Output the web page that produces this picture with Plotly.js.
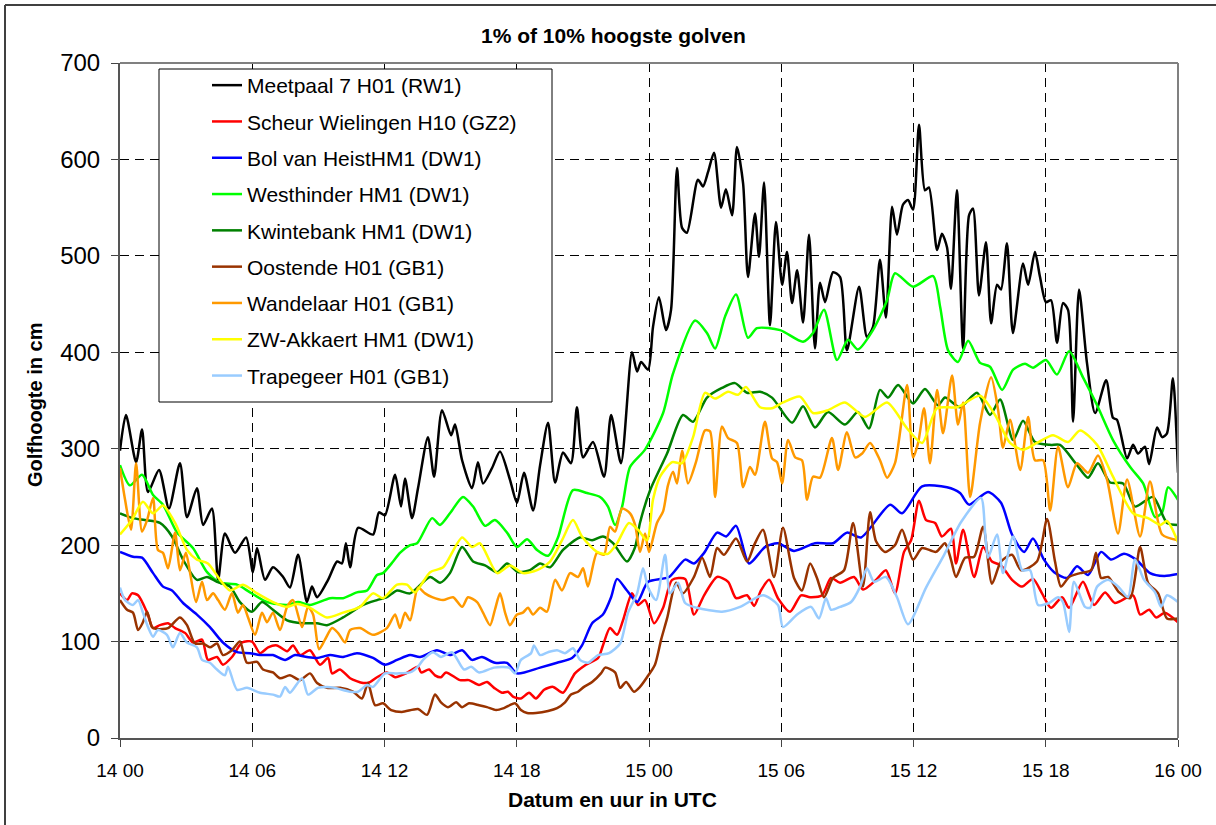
<!DOCTYPE html>
<html><head><meta charset="utf-8">
<script src="https://cdn.plot.ly/plotly-3.0.1.min.js"></script>
<style>html,body{margin:0;padding:0;background:#fff;overflow:hidden}#chart{width:1216px;height:825px}</style>
</head><body><div id="chart"></div>
<script>
// Time axis (hours since 14 00 UTC)
const tijdTicks = [0, 6, 12, 18, 24, 30, 36, 42, 48];
const tijdLabels = ["14 00", "14 06", "14 12", "14 18", "15 00", "15 06", "15 12", "15 18", "16 00"];

const reeksNamen = [
  "Meetpaal 7 H01 (RW1)", "Scheur Wielingen H10 (GZ2)", "Bol van HeistHM1 (DW1)",
  "Westhinder HM1 (DW1)", "Kwintebank HM1 (DW1)", "Oostende H01 (GB1)",
  "Wandelaar H01 (GB1)", "ZW-Akkaert HM1 (DW1)", "Trapegeer H01 (GB1)"
];

// [hours since 14 00, wave height cm]
const meetpaal = [[0,298],[0.27,335],[0.73,286],[1.0,320],[1.27,255],[1.77,278],[2.22,238],[2.72,285],[3.04,229],[3.49,259],[3.77,221],[4.17,238],[4.45,164],[4.76,212],[5.22,192],[5.72,208],[6.03,172],[6.22,197],[6.58,164],[6.94,177],[7.40,167],[7.71,156],[8.08,190],[8.48,141],[8.71,157],[8.94,146],[9.44,164],[9.85,183],[10.07,181],[10.25,202],[10.44,177],[10.80,218],[11.48,211],[11.75,234],[12.02,231],[12.48,273],[12.75,240],[12.93,269],[13.25,228],[13.52,259],[13.97,312],[14.25,271],[14.61,340],[15.02,314],[15.20,325],[15.52,288],[15.97,259],[16.24,286],[16.47,264],[16.88,280],[17.24,297],[17.69,268],[18.01,244],[18.33,275],[18.74,236],[19.06,283],[19.42,327],[19.74,265],[20.10,296],[20.46,285],[20.73,343],[21.01,291],[21.46,307],[21.96,271],[22.28,335],[22.73,285],[23.23,400],[23.46,380],[23.64,390],[23.96,382],[24.18,426],[24.45,457],[24.77,423],[25.00,444],[25.27,591],[25.50,529],[25.72,524],[26.22,579],[26.45,572],[26.68,587],[26.95,607],[27.27,550],[27.49,569],[27.77,542],[27.99,613],[28.27,575],[28.49,478],[28.81,544],[28.99,499],[29.22,576],[29.49,428],[29.76,535],[30.04,470],[30.26,504],[30.49,451],[30.72,485],[30.99,431],[31.26,522],[31.53,404],[31.76,472],[31.99,452],[32.35,483],[32.67,478],[32.98,402],[33.53,468],[33.89,416],[34.16,426],[34.48,496],[34.75,436],[35.03,551],[35.25,522],[35.52,553],[35.75,558],[35.98,548],[36.25,636],[36.52,568],[36.70,571],[37.07,506],[37.29,523],[37.52,509],[37.70,466],[37.97,568],[38.25,404],[38.52,542],[38.70,549],[38.97,459],[39.29,514],[39.52,430],[39.79,470],[39.97,465],[40.24,513],[40.51,420],[40.97,492],[41.20,470],[41.51,504],[41.74,478],[42.01,452],[42.24,454],[42.51,410],[42.78,451],[43.01,444],[43.24,328],[43.51,465],[43.87,389],[44.24,337],[44.74,371],[45.05,332],[45.23,330],[45.69,290],[45.96,304],[46.19,295],[46.50,302],[46.69,284],[47.05,322],[47.28,312],[47.50,316],[47.77,373],[48.00,275]];

const scheurWielingen = [[0,150],[0.32,143],[0.54,150],[0.82,148],[1.23,130],[1.50,114],[1.81,117],[2.18,119],[2.50,114],[2.95,109],[3.31,99],[3.72,102],[3.99,81],[4.40,84],[4.67,76],[5.08,84],[5.54,99],[5.99,100],[6.35,88],[6.72,94],[7.12,96],[7.58,90],[7.85,96],[8.17,86],[8.62,91],[9.07,76],[9.44,83],[9.62,67],[9.98,71],[10.44,62],[11.03,57],[11.34,58],[11.66,63],[12.11,68],[12.48,63],[12.98,67],[13.52,74],[13.66,68],[14.02,71],[14.29,65],[14.56,63],[14.79,68],[15.43,60],[15.83,60],[16.29,55],[16.65,58],[16.97,52],[17.33,47],[17.60,48],[17.83,43],[18.19,41],[18.56,47],[18.87,41],[19.24,50],[19.65,53],[20.10,47],[20.64,67],[21.14,76],[21.69,83],[21.91,96],[22.23,114],[22.55,107],[22.82,122],[23.23,150],[23.50,138],[23.82,143],[24.23,119],[24.64,135],[25.05,164],[25.64,165],[26.04,128],[26.50,148],[27.09,167],[27.59,162],[27.95,145],[28.45,148],[28.77,137],[29.08,153],[29.45,164],[29.85,145],[30.40,131],[30.90,148],[31.31,146],[31.85,148],[32.26,166],[32.67,161],[33.30,167],[33.71,154],[34.30,164],[34.75,174],[35.16,150],[35.57,193],[35.89,205],[36.25,246],[36.57,226],[36.98,223],[37.29,209],[37.70,217],[37.93,181],[38.25,216],[38.75,167],[39.16,198],[39.56,183],[39.97,179],[40.47,164],[40.93,157],[41.42,165],[41.83,150],[42.24,135],[42.74,146],[43.06,135],[43.69,162],[44.19,138],[44.69,151],[45.14,140],[45.96,148],[46.28,128],[46.69,133],[47.01,125],[47.41,130],[48.00,120]];

const bolVanHeist = [[0,193],[0.59,188],[1.00,187],[1.50,171],[1.95,157],[2.36,153],[2.86,140],[3.49,128],[4.08,115],[4.67,99],[5.31,89],[5.90,88],[6.35,86],[6.94,86],[7.49,81],[7.94,86],[8.48,84],[8.94,83],[9.53,86],[10.12,84],[10.75,88],[11.48,83],[12.02,76],[12.57,81],[13.16,86],[13.61,84],[14.38,91],[14.97,86],[15.52,91],[15.97,81],[16.42,84],[17.01,78],[17.56,78],[18.01,67],[19.06,73],[19.83,78],[20.51,83],[20.96,96],[21.42,119],[21.91,128],[22.28,146],[22.55,165],[23.00,153],[23.46,141],[23.96,162],[24.91,167],[25.64,185],[26.04,181],[26.50,192],[27.09,213],[27.50,209],[27.95,220],[28.54,181],[29.26,198],[29.85,202],[30.58,194],[31.53,202],[32.35,202],[32.98,213],[33.62,208],[34.94,242],[35.48,233],[36.39,261],[37.52,260],[38.11,254],[38.52,242],[39.38,255],[39.97,244],[40.47,211],[41.02,193],[41.42,207],[41.92,185],[42.38,172],[42.97,166],[43.42,178],[43.92,169],[44.51,193],[44.96,185],[45.55,191],[46.10,185],[46.73,171],[47.37,168],[48.00,170]];

const westhinder = [[0,283],[0.45,262],[1.00,273],[1.50,252],[1.95,242],[2.59,213],[3.31,197],[3.95,172],[4.54,161],[5.31,159],[5.90,151],[6.67,141],[7.58,138],[8.08,141],[8.62,138],[9.53,145],[10.12,145],[10.75,151],[11.21,153],[11.66,169],[11.93,171],[12.39,183],[12.70,192],[13.16,200],[13.48,202],[14.16,228],[14.52,221],[14.97,233],[15.56,250],[16.02,240],[16.56,220],[17.01,226],[17.56,213],[18.01,198],[18.47,206],[18.92,195],[19.42,189],[19.87,208],[20.55,257],[21.19,254],[21.78,250],[22.14,240],[22.46,221],[22.78,240],[23.14,281],[23.82,299],[24.64,337],[25.09,378],[26.09,433],[26.63,420],[27.00,404],[27.45,437],[27.95,460],[28.49,415],[28.90,425],[29.95,423],[30.99,411],[31.44,420],[31.94,444],[32.53,392],[33.03,413],[33.48,403],[34.16,423],[34.80,454],[35.16,482],[35.98,468],[36.89,479],[37.21,447],[37.57,402],[38.02,390],[38.48,412],[39.02,389],[39.47,385],[40.02,361],[40.52,382],[41.06,388],[41.42,384],[42.01,392],[42.51,377],[43.06,401],[43.69,374],[44.33,345],[45.05,309],[45.83,281],[46.42,264],[46.96,229],[47.28,234],[47.55,260],[48.00,247]];

const kwintebank = [[0,233],[0.59,228],[1.13,226],[1.81,223],[2.36,209],[2.86,185],[3.49,164],[3.95,167],[4.40,162],[4.99,157],[5.44,141],[5.99,131],[6.44,141],[6.94,133],[7.58,122],[8.30,119],[8.94,119],[9.39,117],[10.12,125],[11.03,138],[11.66,143],[12.11,146],[12.57,153],[13.16,150],[14.07,167],[14.52,161],[14.97,171],[15.52,198],[16.02,183],[16.56,179],[17.11,172],[17.56,181],[18.06,172],[18.60,174],[19.06,181],[19.51,177],[20.10,195],[20.87,208],[21.42,205],[21.91,209],[22.37,202],[23.00,183],[23.37,198],[23.59,223],[24.05,257],[24.82,295],[25.54,335],[26.00,328],[26.63,353],[27.31,363],[27.90,368],[28.45,358],[29.04,359],[29.58,353],[30.49,327],[30.99,344],[31.53,322],[32.12,338],[32.89,325],[33.48,338],[33.98,321],[34.48,361],[34.85,353],[35.30,366],[35.98,347],[36.52,362],[37.11,345],[37.43,353],[38.11,343],[38.88,358],[39.47,335],[39.93,351],[40.52,309],[40.97,329],[41.51,307],[42.20,304],[42.65,304],[43.42,283],[43.92,270],[44.37,285],[44.92,265],[45.51,264],[46.05,240],[46.87,250],[47.50,223],[48.00,221]];

const oostende = [[0,143],[0.32,133],[0.59,130],[0.82,112],[1.04,120],[1.23,131],[1.45,115],[1.68,113],[2.18,114],[2.72,125],[3.04,117],[3.40,98],[3.77,98],[4.08,94],[4.40,98],[4.67,86],[5.08,91],[5.44,100],[5.76,78],[6.22,79],[6.49,71],[6.94,68],[7.26,62],[7.71,65],[8.17,60],[8.62,67],[8.94,57],[9.39,52],[9.98,52],[10.57,48],[10.98,41],[11.25,57],[11.57,34],[11.93,36],[12.30,29],[12.79,27],[13.52,30],[13.93,24],[14.29,45],[14.56,37],[14.88,32],[15.25,37],[15.52,32],[15.83,36],[16.29,34],[16.65,32],[17.06,29],[17.42,31],[17.92,36],[18.19,29],[18.47,26],[18.87,26],[19.42,28],[19.83,31],[20.19,37],[20.46,45],[20.78,48],[21.05,53],[21.42,58],[21.82,67],[22.01,73],[22.46,68],[22.69,52],[22.96,58],[23.32,48],[23.59,53],[23.91,63],[24.27,76],[24.55,102],[24.82,124],[25.23,161],[25.54,150],[26.04,167],[26.41,187],[26.77,167],[27.09,197],[27.40,190],[27.95,207],[28.45,183],[28.77,200],[29.17,216],[29.67,167],[30.08,218],[30.58,166],[30.94,153],[31.31,181],[31.62,166],[31.94,146],[32.35,166],[32.85,174],[33.26,223],[33.71,157],[34.03,234],[34.30,204],[34.71,193],[35.16,200],[35.48,216],[35.98,185],[36.39,197],[37.02,193],[37.43,202],[37.70,185],[37.93,167],[38.34,187],[38.75,188],[39.16,219],[39.56,160],[39.97,183],[40.47,190],[40.88,174],[41.60,183],[42.06,227],[42.42,183],[42.69,157],[43.06,167],[43.56,171],[44.06,174],[44.28,192],[44.51,166],[44.83,167],[45.33,151],[45.83,145],[46.28,198],[46.64,161],[47.10,150],[47.50,124],[48.00,124]];

const wandelaar = [[0,280],[0.23,247],[0.50,216],[0.73,285],[1.00,214],[1.23,226],[1.50,249],[1.72,195],[1.95,192],[2.18,176],[2.50,213],[2.72,174],[2.99,192],[3.18,171],[3.45,141],[3.72,162],[3.95,143],[4.22,150],[4.45,143],[4.76,133],[5.08,150],[5.35,130],[5.58,138],[5.81,125],[6.13,107],[6.44,130],[6.67,120],[6.94,130],[7.26,112],[7.58,136],[7.85,143],[8.26,115],[8.53,136],[8.76,128],[9.03,92],[9.30,102],[9.62,114],[9.89,109],[10.21,99],[10.44,112],[10.89,114],[11.48,107],[12.11,114],[12.48,128],[12.70,114],[12.93,130],[13.16,122],[13.52,156],[13.84,150],[14.16,146],[14.66,143],[15.11,146],[15.52,136],[15.79,146],[16.20,141],[16.47,130],[16.79,117],[17.01,133],[17.24,150],[17.47,130],[17.69,117],[18.01,128],[18.28,130],[18.51,135],[18.74,128],[19.06,135],[19.37,131],[19.74,164],[20.05,153],[20.42,171],[20.78,167],[21.01,176],[21.23,157],[21.64,192],[21.96,190],[22.23,219],[22.46,214],[22.78,238],[23.14,233],[23.37,221],[23.59,193],[23.82,212],[24.00,193],[24.36,223],[24.64,235],[24.86,262],[25.09,276],[25.27,264],[25.50,298],[25.77,264],[26.13,286],[26.54,319],[26.77,318],[27.00,250],[27.31,323],[27.59,311],[27.99,306],[28.27,260],[28.58,281],[28.81,273],[29.26,328],[29.58,290],[29.81,286],[30.04,264],[30.31,309],[30.63,291],[30.94,288],[31.17,247],[31.44,271],[31.76,270],[32.30,311],[32.58,278],[32.98,317],[33.35,291],[33.67,295],[34.03,306],[34.48,288],[34.80,270],[35.16,285],[35.71,366],[35.98,291],[36.21,306],[36.48,342],[36.75,285],[37.07,361],[37.34,316],[37.75,376],[38.02,325],[38.25,348],[38.57,250],[39.02,327],[39.52,374],[39.84,340],[40.06,301],[40.38,330],[40.84,278],[41.20,333],[41.51,288],[41.88,288],[42.20,236],[42.56,302],[43.01,260],[43.42,285],[43.92,275],[44.37,293],[44.78,268],[45.28,212],[45.69,268],[46.28,209],[46.73,266],[47.28,211],[48.00,205]];

const zwAkkaert = [[0,211],[0.54,226],[1.04,245],[1.50,233],[1.95,241],[2.50,223],[3.04,195],[3.49,185],[3.99,181],[4.54,164],[4.99,153],[5.58,159],[6.22,150],[6.94,141],[7.58,136],[8.03,139],[8.62,135],[9.39,125],[10.12,130],[10.89,136],[11.48,150],[11.93,145],[12.57,159],[13.02,159],[13.38,151],[14.07,172],[14.66,177],[15.52,208],[15.97,198],[16.33,202],[17.11,171],[17.69,179],[18.28,171],[18.92,174],[19.51,183],[20.05,205],[20.55,226],[20.96,209],[21.64,193],[22.14,191],[22.55,202],[23.09,223],[23.50,216],[23.91,205],[24.18,247],[24.50,271],[25.05,286],[25.50,285],[26.00,312],[26.54,358],[27.00,352],[27.59,359],[28.04,356],[28.40,364],[29.04,343],[29.58,342],[30.08,348],[30.85,354],[31.44,337],[32.12,340],[32.89,348],[33.80,333],[34.80,348],[35.71,321],[36.39,306],[37.07,342],[37.98,343],[39.02,355],[39.70,335],[40.38,306],[40.97,299],[41.60,306],[42.33,314],[43.01,307],[43.56,319],[44.33,304],[45.05,271],[45.96,233],[46.64,228],[47.19,221],[47.50,225],[48.00,203]];

const trapegeer = [[0,156],[0.23,143],[0.59,138],[0.82,143],[1.04,130],[1.27,115],[1.50,105],[1.72,112],[2.13,107],[2.40,94],[2.72,109],[3.04,99],[3.49,94],[3.72,81],[4.08,78],[4.40,71],[4.76,65],[4.90,74],[5.31,50],[5.76,52],[6.35,47],[6.94,45],[7.26,43],[7.49,53],[7.71,47],[8.26,62],[8.53,45],[8.98,52],[9.39,53],[9.75,52],[10.44,48],[10.80,48],[11.21,55],[11.48,53],[12.02,67],[12.57,67],[13.16,68],[13.52,74],[13.75,81],[14.20,89],[14.56,84],[15.06,89],[15.61,71],[15.93,74],[16.29,68],[16.97,73],[17.65,73],[17.92,67],[18.19,81],[18.65,88],[18.78,96],[19.06,86],[19.42,89],[19.83,91],[20.19,88],[20.55,93],[20.87,81],[21.23,78],[21.69,86],[22.19,88],[22.69,98],[23.05,130],[23.46,150],[23.73,176],[23.96,156],[24.32,143],[24.73,190],[24.95,150],[25.32,161],[25.64,140],[26.18,135],[27.31,131],[28.13,136],[29.17,148],[29.85,138],[30.08,115],[30.72,128],[31.35,136],[31.71,124],[32.03,145],[32.26,133],[32.67,136],[33.17,141],[33.58,157],[33.89,176],[34.21,162],[34.75,167],[35.25,146],[35.75,118],[36.57,156],[37.39,190],[38.16,224],[39.06,249],[39.25,213],[39.38,187],[39.79,211],[40.06,171],[40.52,209],[40.93,174],[41.29,174],[41.65,138],[42.15,140],[42.56,146],[42.78,141],[43.06,110],[43.28,162],[43.78,136],[44.01,135],[44.33,157],[44.83,164],[45.33,156],[45.73,146],[46.05,185],[46.46,164],[46.96,151],[47.23,136],[47.50,148],[48.00,141]];

const reeksen = [meetpaal, scheurWielingen, bolVanHeist, westhinder, kwintebank, oostende, wandelaar, zwAkkaert, trapegeer];
const kleuren = ["#000000", "#ff0000", "#0000ff", "#00ff00", "#008000", "#993300", "#ff9900", "#ffff00", "#99ccff"];

const traces = reeksen.map((s, i) => ({
  type: 'scatter', mode: 'lines',
  x: s.map(p => p[0]), y: s.map(p => p[1]),
  name: reeksNamen[i], legendgroup: 'g' + i,
  line: {color: kleuren[i], width: 2.5, shape: 'spline', smoothing: 0.7},
  hoverinfo: 'skip'
}));

const px = v => (v - 120) / 1058;   // paper x from pixel position
const py = v => (738 - v) / 675;    // paper y from pixel position

const layout = {
  width: 1216, height: 825,
  margin: {l: 120, r: 38, t: 63, b: 87, pad: 0},
  paper_bgcolor: '#ffffff', plot_bgcolor: '#ffffff',
  font: {family: '"Liberation Sans", Arial, sans-serif', color: '#000'},
  showlegend: true,
  legend: {x: px(207), y: py(65), xanchor: 'left', yanchor: 'top',
    bgcolor: 'rgba(0,0,0,0)', borderwidth: 0, font: {size: 21, color: '#000'},
    traceorder: 'grouped', tracegroupgap: 6},
  xaxis: {range: [0, 48], tickvals: tijdTicks, ticktext: tijdLabels,
    ticks: 'outside', ticklen: 7, tickwidth: 1, tickcolor: '#444',
    showgrid: true, gridcolor: '#000', gridwidth: 1, griddash: '9px,6px',
    showline: true, linecolor: '#555', linewidth: 2, zeroline: false,
    tickfont: {size: 19, color: '#000'}, ticklabelstandoff: 7, fixedrange: true},
  yaxis: {range: [0, 700], tick0: 0, dtick: 100,
    ticks: 'outside', ticklen: 7, tickwidth: 1, tickcolor: '#444',
    showgrid: true, gridcolor: '#000', gridwidth: 1, griddash: '9px,6px',
    showline: true, linecolor: '#555', linewidth: 2, zeroline: false,
    tickfont: {size: 24, color: '#000'}, ticklabelstandoff: 6, fixedrange: true},
  shapes: [
    {type: 'rect', xref: 'paper', yref: 'paper', x0: px(159), x1: px(552), y0: py(402), y1: py(69),
      fillcolor: '#ffffff', line: {color: '#000', width: 1}, layer: 'above'},
    {type: 'line', xref: 'paper', yref: 'paper', x0: 0, x1: 1, y0: 1, y1: 1, line: {color: '#808080', width: 2}, layer: 'above'},
    {type: 'line', xref: 'paper', yref: 'paper', x0: 1, x1: 1, y0: 0, y1: 1, line: {color: '#808080', width: 2}, layer: 'above'},
    {type: 'line', xref: 'paper', yref: 'paper', x0: px(5), x1: px(5), y0: py(5), y1: py(830), line: {color: '#404040', width: 2}},
    {type: 'line', xref: 'paper', yref: 'paper', x0: px(5), x1: px(1220), y0: py(5), y1: py(5), line: {color: '#404040', width: 2}}
  ],
  annotations: [
    {text: '<b>1% of 10% hoogste golven</b>', xref: 'paper', yref: 'paper', x: px(613), y: py(35),
      xanchor: 'center', yanchor: 'middle', showarrow: false, font: {size: 21}},
    {text: '<b>Datum en uur in UTC</b>', xref: 'paper', yref: 'paper', x: px(612), y: py(799),
      xanchor: 'center', yanchor: 'middle', showarrow: false, font: {size: 21}},
    {text: '<b>Golfhoogte in cm</b>', xref: 'paper', yref: 'paper', x: px(35), y: py(405),
      xanchor: 'center', yanchor: 'middle', showarrow: false, textangle: -90, font: {size: 20}}
  ]
};

Plotly.newPlot('chart', traces, layout, {displayModeBar: false, staticPlot: true});
</script>
</body></html>
